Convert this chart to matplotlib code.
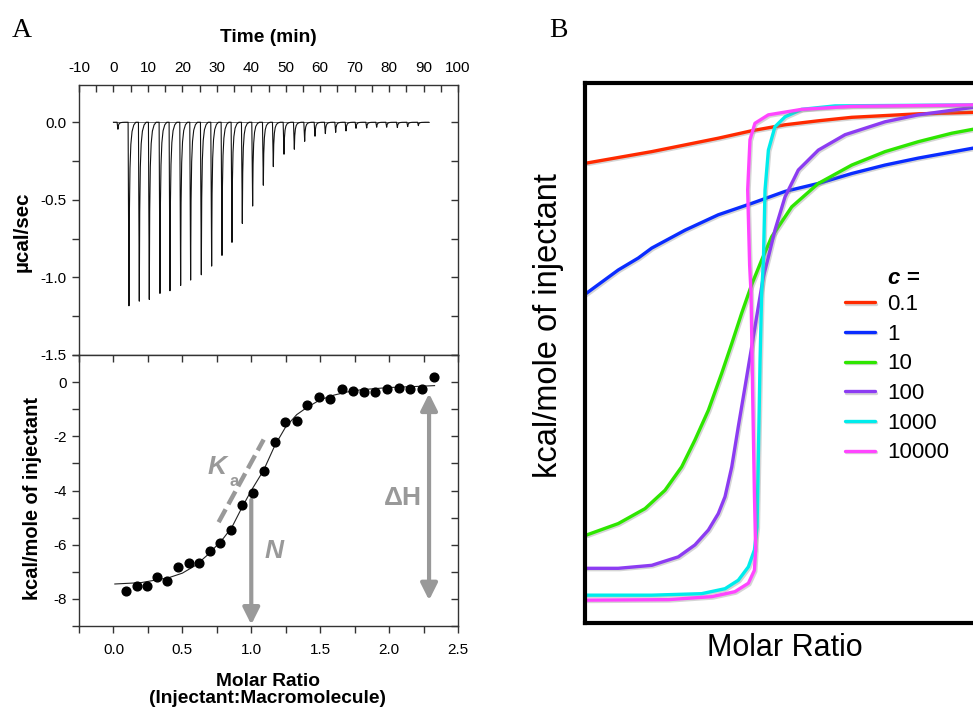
import matplotlib
matplotlib.use("Agg")
import matplotlib.pyplot as plt
from matplotlib.patches import FancyArrowPatch
from matplotlib.ticker import MultipleLocator
import matplotlib.patheffects as pe

plt.rcParams['font.family'] = ['Liberation Sans', 'DejaVu Sans']

# ---------------- data: panel A (thermogram) ----------------
inj_time = [4.5, 7.5, 10.4, 13.5, 16.4, 19.5, 22.4, 25.5, 28.5, 31.5, 34.4, 37.4,
            40.4, 43.5, 46.4, 49.5, 52.5, 55.5, 58.5, 61.5, 64.5, 67.5, 70.4,
            73.5, 76.4, 79.3, 82.4, 85.4, 88.5]
inj_peak = [-1.183, -1.153, -1.142, -1.103, -1.086, -1.052, -1.017, -0.983,
            -0.927, -0.858, -0.774, -0.652, -0.540, -0.406, -0.286, -0.206,
            -0.174, -0.123, -0.090, -0.073, -0.065, -0.056, -0.039, -0.037,
            -0.032, -0.032, -0.034, -0.028, -0.022]
first_inj_time = 1.3
first_inj_peak = -0.045
run_start, run_end = 0.0, 91.5

# ---------------- data: panel A (integrated heats) ----------------
molar_ratio = [0.092, 0.169, 0.247, 0.315, 0.392, 0.467, 0.547, 0.622, 0.697,
               0.775, 0.855, 0.930, 1.010, 1.090, 1.169, 1.247, 1.332, 1.407,
               1.489, 1.574, 1.659, 1.738, 1.821, 1.901, 1.985, 2.070, 2.155,
               2.240, 2.324]
heat = [-7.72, -7.54, -7.51, -7.20, -7.35, -6.83, -6.68, -6.66, -6.22, -5.94,
        -5.44, -4.52, -4.09, -3.29, -2.22, -1.48, -1.45, -0.86, -0.55, -0.62,
        -0.25, -0.31, -0.37, -0.37, -0.25, -0.21, -0.25, -0.27, 0.18]
fit_x = [0.01, 0.2, 0.4, 0.5, 0.6, 0.7, 0.8, 0.86, 0.93, 1.0, 1.09, 1.17,
         1.25, 1.33, 1.4, 1.5, 1.6, 1.7, 1.8, 2.0, 2.2, 2.33]
fit_y = [-7.45, -7.40, -7.22, -7.05, -6.75, -6.30, -5.75, -5.35, -4.65, -4.0,
         -3.25, -2.35, -1.65, -1.20, -0.95, -0.65, -0.48, -0.36, -0.28, -0.20,
         -0.16, -0.13]

# ---------------- data: panel B (Wiseman isotherms) ----------------
c_labels = ['0.1', '1', '10', '100', '1000', '10000']
c_colors = ['#ff2a00', '#0a2cff', '#2ee600', '#8c3cf2', '#00ecec', '#ff45ff']

red_x = [0.009, 0.377, 0.753, 0.942, 1.130, 1.318, 1.507, 1.883, 2.192]
red_y = [-0.121, -0.098, -0.071, -0.056, -0.044, -0.036, -0.029, -0.022, -0.019]
blue_x = [0.0, 0.188, 0.301, 0.377, 0.565, 0.753, 0.942, 1.130, 1.318, 1.507,
          1.695, 1.883, 2.192]
blue_y = [-0.385, -0.336, -0.312, -0.292, -0.256, -0.225, -0.202, -0.178, -0.162,
          -0.142, -0.125, -0.111, -0.091]
green_x = [0.009, 0.188, 0.339, 0.452, 0.546, 0.621, 0.697, 0.772, 0.829, 0.885,
           0.942, 0.998, 1.055, 1.168, 1.318, 1.507, 1.695, 1.883, 2.072, 2.192]
green_y = [-0.869, -0.846, -0.816, -0.779, -0.732, -0.678, -0.618, -0.544, -0.484,
           -0.423, -0.365, -0.316, -0.269, -0.209, -0.162, -0.125, -0.098, -0.078,
           -0.061, -0.053]
purple_x = [0.009, 0.188, 0.377, 0.527, 0.621, 0.697, 0.753, 0.791, 0.829, 0.866,
            0.904, 0.942, 0.979, 1.008, 1.036, 1.073, 1.130, 1.205, 1.318, 1.469,
            1.695, 1.883, 2.192]
purple_y = [-0.936, -0.936, -0.930, -0.913, -0.889, -0.859, -0.826, -0.792, -0.732,
            -0.651, -0.571, -0.490, -0.410, -0.349, -0.310, -0.256, -0.189, -0.135,
            -0.095, -0.064, -0.038, -0.024, -0.009]
cyan_x = [0.009, 0.377, 0.659, 0.791, 0.866, 0.923, 0.957, 0.972, 0.979, 0.989,
          0.998, 1.008, 1.017, 1.036, 1.073, 1.130, 1.224, 1.412, 2.192]
cyan_y = [-0.990, -0.990, -0.987, -0.977, -0.960, -0.933, -0.899, -0.853, -0.718,
          -0.517, -0.383, -0.316, -0.175, -0.095, -0.048, -0.028, -0.013, -0.006,
          -0.004]
magenta_x = [0.009, 0.471, 0.716, 0.847, 0.923, 0.957, 0.964, 0.957, 0.947, 0.938,
             0.930, 0.919, 0.932, 0.960, 1.036, 1.224, 1.507, 2.192]
magenta_y = [-1.000, -0.999, -0.993, -0.983, -0.966, -0.940, -0.899, -0.785, -0.584,
             -0.383, -0.326, -0.175, -0.074, -0.041, -0.024, -0.013, -0.007, -0.004]
curves_x = [red_x, blue_x, green_x, purple_x, cyan_x, magenta_x]
curves_y = [red_y, blue_y, green_y, purple_y, cyan_y, magenta_y]

# ---------------- figure ----------------
W, H = 973, 711
fig = plt.figure(figsize=(W / 100, H / 100), dpi=100)


def fx(px):
    return px / W


def fy(py):
    return 1 - py / H


spine_c = '#333333'
tick_kw = dict(labelsize=11, length=5, width=1.0, color=spine_c)

# ---- top: raw thermogram ----
axT = fig.add_axes([fx(79), fy(355), fx(458) - fx(79), fy(85) - fy(355)])
# peak profile (shape of one injection spike, fraction of peak depth)
prof_dt = [-0.25, 0.0, 0.12, 0.3, 0.55, 0.9, 1.4, 2.0]
prof_f = [0.0, 1.0, 0.5, 0.25, 0.12, 0.05, 0.015, 0.0]
ts, ys = [run_start], [0.0]
for ti, pk in zip([first_inj_time] + inj_time, [first_inj_peak] + inj_peak):
    for dt, f in zip(prof_dt, prof_f):
        ts.append(ti + dt)
        ys.append(pk * f)
ts.append(run_end)
ys.append(0.0)
axT.plot([run_start, run_end], [0, 0], color='#555555', lw=0.6)
axT.plot(ts, ys, color='#111111', lw=0.8)
axT.set_xlim(-10, 100)
axT.set_ylim(-1.5, 0.24)
axT.xaxis.set_major_locator(MultipleLocator(10))
axT.xaxis.set_minor_locator(MultipleLocator(5))
axT.yaxis.set_major_locator(MultipleLocator(0.5))
axT.yaxis.set_minor_locator(MultipleLocator(0.25))
axT.xaxis.set_major_formatter(lambda v, p: f"{v:.0f}")
axT.yaxis.set_major_formatter(lambda v, p: f"{v:.1f}")
axT.tick_params(axis='x', which='both', top=True, bottom=False, labeltop=True,
                labelbottom=False, direction='in', pad=7, **tick_kw)
axT.tick_params(axis='y', which='both', left=True, right=False, direction='out',
                pad=4, **tick_kw)
axT2 = axT.secondary_yaxis('right')
axT2.yaxis.set_major_locator(MultipleLocator(0.25))
axT2.tick_params(axis='y', direction='in', labelright=False, length=5, width=1.0,
                 color=spine_c)
axT2.spines['right'].set_visible(False)
for s in axT.spines.values():
    s.set_color(spine_c)
    s.set_linewidth(1.0)

# ---- bottom: integrated heats ----
axB = fig.add_axes([fx(79), fy(626), fx(458) - fx(79), fy(355) - fy(626)])
axB.plot(fit_x, fit_y, color='#222222', lw=0.8, zorder=2)
axB.plot(molar_ratio, heat, 'o', color='black', ms=6.3, zorder=3)
axB.set_xlim(-0.25, 2.5)
axB.set_ylim(-9, 1)
axB.xaxis.set_major_locator(MultipleLocator(0.5))
axB.xaxis.set_minor_locator(MultipleLocator(0.25))
axB.yaxis.set_major_locator(MultipleLocator(2))
axB.yaxis.set_minor_locator(MultipleLocator(1))
axB.xaxis.set_major_formatter(lambda v, p: f"{v:.1f}")
axB.yaxis.set_major_formatter(lambda v, p: f"{v:.0f}")
axB.tick_params(axis='x', which='both', bottom=True, direction='out', pad=7, **tick_kw)
axB.tick_params(axis='y', which='both', left=True, direction='out', pad=4, **tick_kw)
axBt = axB.secondary_xaxis('top')
axBt.xaxis.set_major_locator(MultipleLocator(0.25))
axBt.tick_params(axis='x', direction='in', labeltop=False, length=5, width=1.0, color=spine_c)
axBt.spines['top'].set_visible(False)
axBr = axB.secondary_yaxis('right')
axBr.yaxis.set_major_locator(MultipleLocator(1))
axBr.tick_params(axis='y', direction='in', labelright=False, length=5, width=1.0, color=spine_c)
axBr.spines['right'].set_visible(False)
for s in axB.spines.values():
    s.set_color(spine_c)
    s.set_linewidth(1.0)

gray = '#999999'
axB.plot([0.763, 1.090], [-5.17, -2.12], color=gray, lw=3.2,
         linestyle=(0, (3.3, 1.3)), solid_capstyle='butt', zorder=1)
arrN = FancyArrowPatch((1.0, -4.35), (1.0, -8.95), arrowstyle='-|>,head_length=1.0,head_width=0.5',
                       mutation_scale=10, color=gray, lw=3, shrinkA=0, shrinkB=0, zorder=1)
axB.add_patch(arrN)
arrH = FancyArrowPatch((2.29, -0.42), (2.29, -8.05), arrowstyle='<|-|>,head_length=1.0,head_width=0.5',
                       mutation_scale=10, color=gray, lw=3, shrinkA=0, shrinkB=0, zorder=1)
axB.add_patch(arrH)
axB.text(0.755, -3.12, 'K', color=gray, fontsize=19, fontweight='bold', style='italic',
         ha='center', va='center')
axB.text(0.872, -3.66, 'a', color=gray, fontsize=12, fontweight='bold',
         ha='center', va='center')
axB.text(1.165, -6.24, 'N', color=gray, fontsize=19, fontweight='bold', style='italic',
         ha='center', va='center')
axB.text(2.10, -4.27, 'ΔH', color=gray, fontsize=19, fontweight='bold',
         ha='center', va='center')

# panel A labels
fig.text(fx(268), fy(37), 'Time (min)', fontsize=13.8, fontweight='bold', ha='center', va='center')
fig.text(fx(22), fy(232), 'µcal/sec', fontsize=14.8, fontweight='bold', rotation=90,
         ha='center', va='center')
fig.text(fx(33), fy(499), 'kcal/mole of injectant', fontsize=14.4, fontweight='bold',
         rotation=90, ha='center', va='center')
fig.text(fx(268), fy(690), 'Molar Ratio\n(Injectant:Macromolecule)', fontsize=13.8,
         fontweight='bold', ha='center', va='center', linespacing=1.0)
fig.text(fx(12), fy(37), 'A', fontsize=20, family='Liberation Serif', ha='left', va='baseline')
fig.text(fx(549), fy(37), 'B', fontsize=20, family='Liberation Serif', ha='left', va='baseline')

# ---- panel B ----
axP = fig.add_axes([fx(585), fy(623), fx(990) - fx(585), fy(83) - fy(623)])
shadow = [pe.SimpleLineShadow(offset=(1, -1), shadow_color='#888888', alpha=0.35),
          pe.Normal()]
handles = []
for xs, yv, col, lab in zip(curves_x, curves_y, c_colors, c_labels):
    ln, = axP.plot(xs, yv, color=col, lw=2.4, label=lab, solid_joinstyle='round',
                   solid_capstyle='round', path_effects=shadow)
    handles.append(ln)
axP.set_xlim(0, 2.288)
axP.set_ylim(-1.046, 0.040)
axP.set_xticks([])
axP.set_yticks([])
for s in axP.spines.values():
    s.set_linewidth(3)
    s.set_color('black')
leg = fig.legend(handles=handles, labels=c_labels, loc='upper left',
                 bbox_to_anchor=(fx(845), fy(294)), frameon=False, fontsize=16,
                 handlelength=1.35, handletextpad=0.55, labelspacing=0.39,
                 borderpad=0, borderaxespad=0)
fig.text(fx(888), fy(279), 'c =', fontsize=16, fontweight='bold', style='italic',
         ha='left', va='center')
fig.text(fx(548), fy(326), 'kcal/mole of injectant', fontsize=23.5, rotation=90,
         ha='center', va='center')
fig.text(fx(785), fy(648), 'Molar Ratio', fontsize=22, ha='center', va='center')

fig.savefig('out.png', dpi=100)
